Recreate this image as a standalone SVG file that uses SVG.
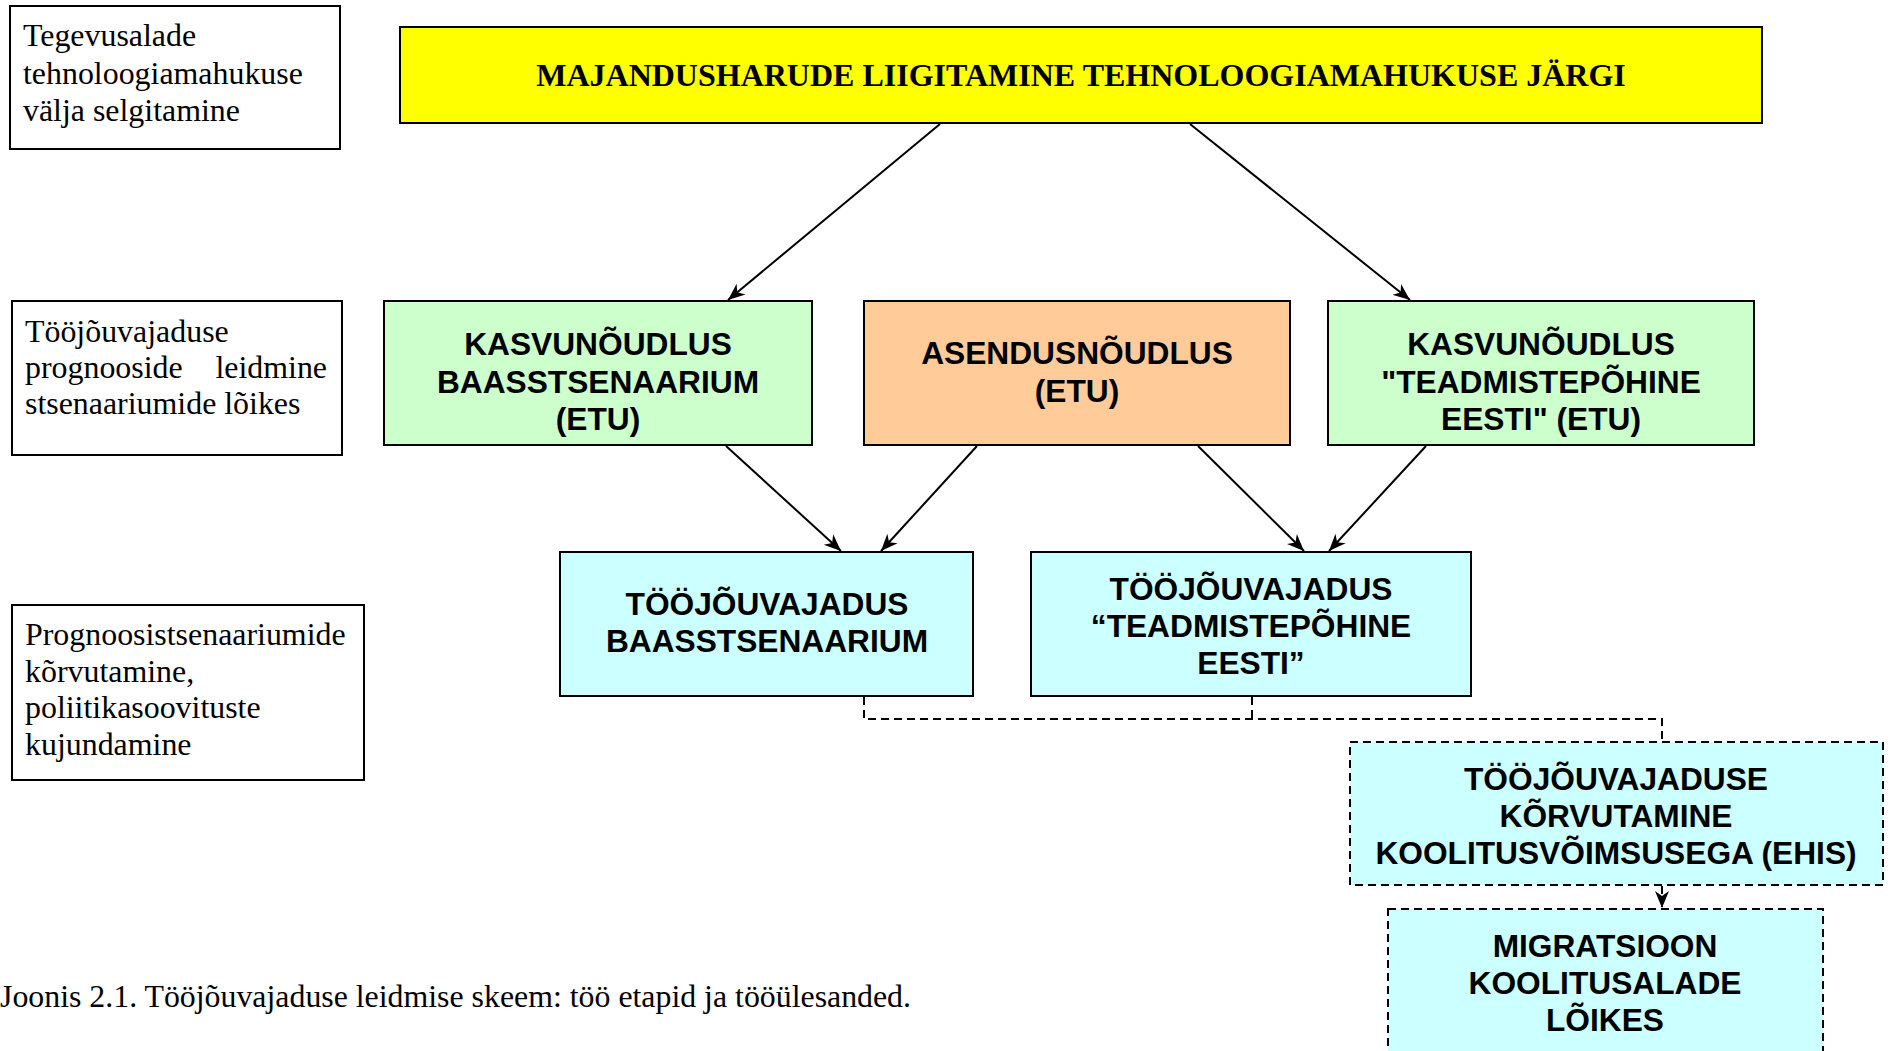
<svg xmlns="http://www.w3.org/2000/svg" width="1894" height="1051" viewBox="0 0 1894 1051">
<style>
.box{stroke:#000;stroke-width:2}
.lbl{fill:#fff;stroke:#000;stroke-width:2}
.dash{stroke-dasharray:8 5}
.ser{font-family:"Liberation Serif","Times New Roman",serif;font-size:31.9px;fill:#000}
.sb{font-family:"Liberation Serif","Times New Roman",serif;font-size:32px;font-weight:bold;fill:#000}
.ss{font-family:"Liberation Sans",Arial,sans-serif;font-size:31.7px;font-weight:bold;fill:#000;text-anchor:middle}
.con{stroke:#000;stroke-width:2;fill:none}
</style>
<defs>
<marker id="arr" markerUnits="userSpaceOnUse" markerWidth="18" markerHeight="16" refX="17" refY="8" orient="auto" viewBox="0 0 18 16">
<path d="M0,1 L17,8 L0,15 L5,8 Z" fill="#000"/>
</marker>
</defs>
<rect width="1894" height="1051" fill="#fff"/>

<g id="label1">
<rect class="lbl" x="10" y="6" width="330" height="143"/>
<text class="ser" x="23" y="46">Tegevusalade</text>
<text class="ser" x="23" y="84">tehnoloogiamahukuse</text>
<text class="ser" x="23" y="121">välja selgitamine</text>
</g>
<g id="label2">
<rect class="lbl" x="12" y="301" width="330" height="154"/>
<text class="ser" x="25" y="342">Tööjõuvajaduse</text>
<text class="ser" x="25" y="378">prognooside</text>
<text class="ser" x="327" y="378" text-anchor="end">leidmine</text>
<text class="ser" x="25" y="414">stsenaariumide lõikes</text>
</g>
<g id="label3">
<rect class="lbl" x="12" y="605" width="352" height="175"/>
<text class="ser" x="25" y="645">Prognoosistsenaariumide</text>
<text class="ser" x="25" y="682">kõrvutamine,</text>
<text class="ser" x="25" y="718">poliitikasoovituste</text>
<text class="ser" x="25" y="755">kujundamine</text>
</g>

<g id="title">
<rect class="box" x="400" y="27" width="1362" height="96" fill="#FFFF00"/>
<text class="sb" x="1081" y="86" text-anchor="middle">MAJANDUSHARUDE LIIGITAMINE TEHNOLOOGIAMAHUKUSE JÄRGI</text>
</g>

<g id="kasvu-baas">
<rect class="box" x="384" y="301" width="428" height="144" fill="#CCFFCC"/>
<text class="ss" x="598" y="355">KASVUNÕUDLUS</text>
<text class="ss" x="598" y="393">BAASSTSENAARIUM</text>
<text class="ss" x="598" y="430">(ETU)</text>
</g>
<g id="asendus">
<rect class="box" x="864" y="301" width="426" height="144" fill="#FFCC99"/>
<text class="ss" x="1077" y="364">ASENDUSNÕUDLUS</text>
<text class="ss" x="1077" y="402">(ETU)</text>
</g>
<g id="kasvu-teadmis">
<rect class="box" x="1328" y="301" width="426" height="144" fill="#CCFFCC"/>
<text class="ss" x="1541" y="355">KASVUNÕUDLUS</text>
<text class="ss" x="1541" y="393">"TEADMISTEPÕHINE</text>
<text class="ss" x="1541" y="430">EESTI" (ETU)</text>
</g>

<g id="too-baas">
<rect class="box" x="560" y="552" width="413" height="144" fill="#CCFFFF"/>
<text class="ss" x="767" y="615">TÖÖJÕUVAJADUS</text>
<text class="ss" x="767" y="652">BAASSTSENAARIUM</text>
</g>
<g id="too-teadmis">
<rect class="box" x="1031" y="552" width="440" height="144" fill="#CCFFFF"/>
<text class="ss" x="1251" y="600">TÖÖJÕUVAJADUS</text>
<text class="ss" x="1251" y="637">“TEADMISTEPÕHINE</text>
<text class="ss" x="1251" y="674">EESTI”</text>
</g>

<g id="korvutamine">
<rect class="box dash" x="1350" y="742" width="533" height="143" fill="#CCFFFF"/>
<text class="ss" x="1616" y="790">TÖÖJÕUVAJADUSE</text>
<text class="ss" x="1616" y="827">KÕRVUTAMINE</text>
<text class="ss" x="1616" y="864">KOOLITUSVÕIMSUSEGA (EHIS)</text>
</g>
<g id="migratsioon">
<rect class="box dash" x="1388" y="909" width="435" height="160" fill="#CCFFFF"/>
<text class="ss" x="1605" y="957">MIGRATSIOON</text>
<text class="ss" x="1605" y="994">KOOLITUSALADE</text>
<text class="ss" x="1605" y="1031">LÕIKES</text>
</g>

<g id="connectors">
<line class="con" x1="940" y1="124" x2="728" y2="300" marker-end="url(#arr)"/>
<line class="con" x1="1190" y1="124" x2="1410" y2="300" marker-end="url(#arr)"/>
<line class="con" x1="726" y1="446" x2="841" y2="551" marker-end="url(#arr)"/>
<line class="con" x1="977" y1="446" x2="881" y2="551" marker-end="url(#arr)"/>
<line class="con" x1="1198" y1="446" x2="1304" y2="551" marker-end="url(#arr)"/>
<line class="con" x1="1426" y1="446" x2="1329" y2="551" marker-end="url(#arr)"/>
<polyline class="con dash" points="864,697 864,719 1662,719 1662,742"/>
<line class="con dash" x1="1252" y1="697" x2="1252" y2="719"/>
<line class="con dash" x1="1662" y1="886" x2="1662" y2="908" marker-end="url(#arr)"/>
</g>

<text class="ser" x="0" y="1007" textLength="911" lengthAdjust="spacingAndGlyphs">Joonis 2.1. Tööjõuvajaduse leidmise skeem: töö etapid ja tööülesanded.</text>
</svg>
